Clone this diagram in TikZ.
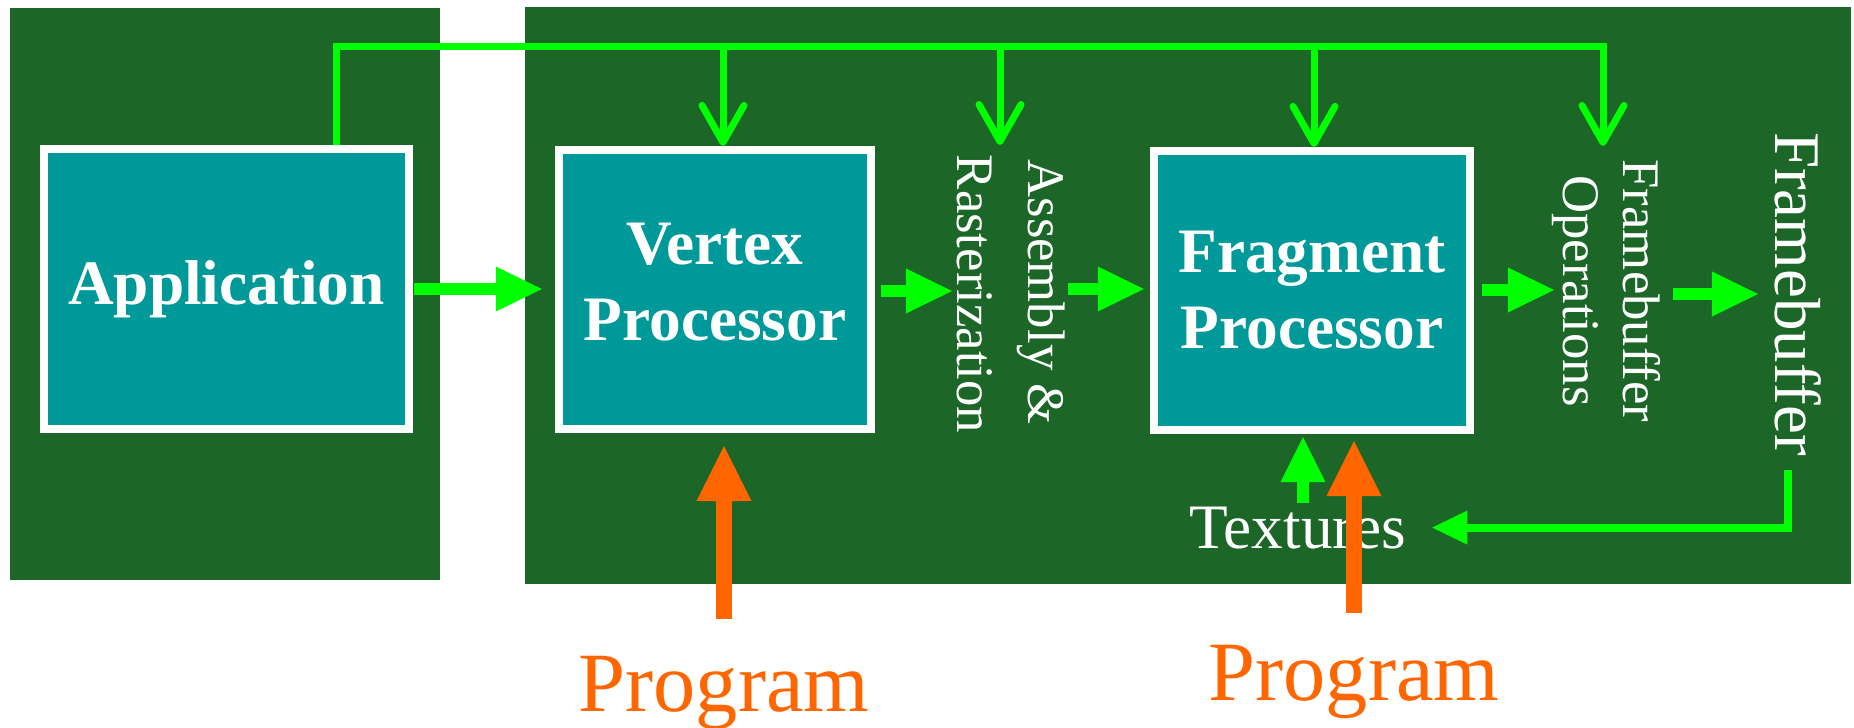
\documentclass[tikz,border=0pt]{standalone}
\usepackage{fontspec}
\setmainfont{Liberation Serif}
\usetikzlibrary{arrows.meta}

\definecolor{panelgreen}{RGB}{28,102,40}
\definecolor{boxteal}{RGB}{0,153,153}
\definecolor{wire}{RGB}{0,255,0}
\definecolor{progorange}{RGB}{255,102,0}

\begin{document}
\begin{tikzpicture}[x=0.01cm, y=-0.01cm,
  procbox/.style={draw=white, line width=0.08cm, fill=boxteal, text=white,
    align=center, inner sep=0pt, font=\fontsize{18}{21.6}\selectfont\bfseries},
  vlabel/.style={text=white, rotate=-90, inner sep=0pt, anchor=base,
    font=\fontsize{15}{18}\selectfont},
  flow/.style={color=wire, line width=0.12cm,
    -{Triangle[length=0.46cm, width=0.45cm, line width=0pt]}},
  bus/.style={color=wire, line width=0.07cm, line join=miter},
  drop/.style={bus, -{Straight Barb[length=0.37cm, width=0.42cm, round]}},
  feedback/.style={color=wire, line width=0.08cm, line join=miter,
    -{Triangle[length=0.35cm, width=0.34cm, line width=0pt]}},
  texup/.style={color=wire, line width=0.12cm,
    -{Triangle[length=0.45cm, width=0.45cm, line width=0pt]}},
  progarrow/.style={color=progorange, line width=0.16cm,
    -{Triangle[length=0.55cm, width=0.55cm, line width=0pt]}},
  proglabel/.style={text=progorange, inner sep=0pt, anchor=base,
    font=\fontsize{24}{28}\selectfont}]

\useasboundingbox (0,0) rectangle (1854,727);
\fill[white] (0,0) rectangle (1854,727);

% host side and GPU side panels
\fill[panelgreen] (10,8) rectangle (440,580);
\fill[panelgreen] (525,7) rectangle (1851,584);

% processing stages
\node[procbox, minimum width=3.65cm, minimum height=2.80cm] (app) at (226.5,289) {Application};
\node[procbox, minimum width=3.12cm, minimum height=2.79cm] (vp) at (715,289.5)
  {Vertex\\Processor\rule[-0.15cm]{0pt}{0.15cm}};
\node[procbox, minimum width=3.16cm, minimum height=2.79cm] (fp) at (1312,290.5)
  {Fragment\\Processor};

% fixed-function stages, set vertically
\node[vlabel] (asm) at (1028,292) {Assembly \&};
\node[vlabel] (rast) at (957,294) {Rasterization};
\node[vlabel] (fbo) at (1623,291) {Framebuffer};
\node[vlabel] (ops) at (1563,291) {Operations};
\node[vlabel, font=\fontsize{18.5}{22}\selectfont] (fb) at (1775,294) {Framebuffer};

\node[text=white, inner sep=0pt, anchor=base, font=\fontsize{18}{21.6}\selectfont]
  (tex) at (1298,548) {Textures};

\node[proglabel] (prog1) at (724,711) {Program};
\node[proglabel] (prog2) at (1354,700) {Program};

% free ends of connectors
\coordinate (bus0) at (336,46.5);
\coordinate (bus1) at (723,46.5);
\coordinate (bus2) at (1000,46.5);
\coordinate (bus3) at (1314,46.5);
\coordinate (bus4) at (1603,46.5);
\coordinate (asmIn) at (1000,145);
\coordinate (fboIn) at (1603,146);
\coordinate (rastIn) at (952,291);
\coordinate (asmOut) at (1068,289);
\coordinate (fboTo) at (1554,290);
\coordinate (fboOut) at (1673,294);
\coordinate (fbIn) at (1758,294);
\coordinate (fbOut) at (1788,470);
\coordinate (texTop) at ([xshift=0.05cm]tex.north);

% control bus from the application to every stage
\draw[bus, -{Straight Barb[length=0.37cm, width=0.42cm, round]}]
  (app.north -| bus0) -- (bus0) -- (bus4) -- (fboIn);
\draw[drop] (bus1) -- (vp.north -| bus1);
\draw[drop] (bus2) -- (asmIn);
\draw[drop] (bus3) -- (fp.north -| bus3);

% data flow through the pipeline
\draw[flow, shorten <=0.01cm, shorten >=0.13cm] (app.east) -- (app.east -| vp.west);
\draw[flow, shorten <=0.06cm] (vp.east |- rastIn) -- (rastIn);
\draw[flow, shorten >=0.06cm] (asmOut) -- (asmOut -| fp.west);
\draw[flow, shorten <=0.08cm] (fp.east |- fboTo) -- (fboTo);
\draw[flow] (fboOut) -- (fbIn);

% framebuffer read back as textures
\draw[feedback, shorten >=0.25cm] (fbOut) |- (tex.east);
\draw[texup, shorten <=0.03cm, shorten >=0.03cm] (texTop) -- (texTop |- fp.south);

% programs loaded into the programmable stages
\draw[progarrow, shorten <=0.36cm, shorten >=0.13cm] (prog1.north) -- (prog1.north |- vp.south);
\draw[progarrow, shorten <=0.31cm, shorten >=0.07cm] (prog2.north) -- (prog2.north |- fp.south);

\end{tikzpicture}
\end{document}
